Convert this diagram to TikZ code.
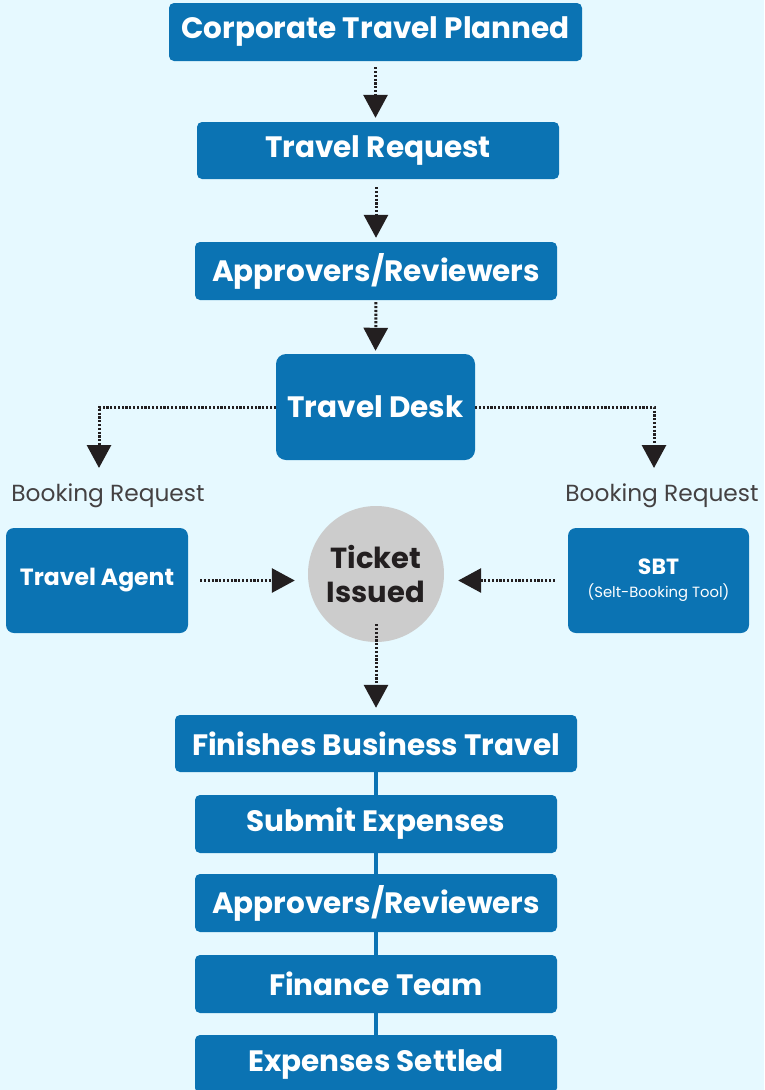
\documentclass[tikz,border=0pt]{standalone}
\usepackage{fontspec}
\setmainfont{Poppins}
\usetikzlibrary{arrows.meta,calc}
\definecolor{bgc}{HTML}{E6F9FF}
\definecolor{boxc}{HTML}{0B73B3}
\definecolor{ink}{HTML}{231F20}
\definecolor{tkc}{HTML}{CCCCCC}
\tikzset{
  bluebox/.style={fill=boxc, rounded corners=5pt, text=white, font=\bfseries\fontsize{29.5}{33}\selectfont, inner sep=0pt, align=center},
  flowarrow/.style={ink, line width=3pt, dash pattern=on 2.2pt off 1.6pt, -{Triangle[width=24pt,length=23pt]}},
  solidlink/.style={boxc, line width=4pt},
  lbl/.style={text=ink!85, font=\fontsize{23.3}{26}\selectfont, inner sep=0pt}
}
\begin{document}
\begin{tikzpicture}[x=1pt,y=-1pt]
\fill[bgc] (0,0) rectangle (764,1090);
\useasboundingbox (0,0) rectangle (764,1090);

\node[bluebox, minimum width=413pt, minimum height=58pt] (ctp) at (375.5,32) {Corporate Travel Planned};
\node[bluebox, minimum width=362pt, minimum height=57pt] (tr) at (378,150.5) {Travel Request};
\node[bluebox, minimum width=362pt, minimum height=58pt] (ar1) at (376,271) {Approvers/Reviewers};
\node[bluebox, rounded corners=10pt, minimum width=199pt, minimum height=106pt] (td) at (375.5,407) {Travel Desk};

\node[lbl] (brl) at (108,496) {Booking Request};
\node[lbl] (brr) at (662,496) {Booking Request};

\node[bluebox, rounded corners=8pt, minimum width=182pt, minimum height=105pt, font=\bfseries\fontsize{23.5}{26}\selectfont] (ta) at (97,580.5) {Travel Agent};
\node[bluebox, rounded corners=8pt, minimum width=181pt, minimum height=105pt, font=\bfseries\fontsize{22}{26}\selectfont] (sbt) at (658.5,580.5) {SBT\\[-3pt]{\mdseries\fontsize{14.8}{18}\selectfont (Selt-Booking Tool)}};

\node[circle, fill=tkc, minimum size=136pt, inner sep=0pt, text=ink, align=center, font=\bfseries\fontsize{29}{34}\selectfont] (tk) at (376,574) {Ticket\\Issued};

\node[bluebox, minimum width=402pt, minimum height=57pt] (fb) at (376,743.5) {Finishes Business Travel};
\node[bluebox, minimum width=362pt, minimum height=58pt] (se) at (376,824) {Submit Expenses};
\node[bluebox, minimum width=362pt, minimum height=58pt] (ar2) at (376,903) {Approvers/Reviewers};
\node[bluebox, minimum width=362pt, minimum height=58pt] (ft) at (376,984) {Finance Team};
\node[bluebox, minimum width=362pt, minimum height=58pt] (es) at (376,1064) {Expenses Settled};

\coordinate (tipl) at (99,468);
\coordinate (tipr) at (654,468);

\draw[flowarrow, shorten <=6pt, shorten >=4pt] (ctp.south) -- (ctp.south |- tr.north);
\draw[flowarrow, shorten <=8pt, shorten >=4pt] (ar1.north |- tr.south) -- (ar1.north);
\draw[flowarrow, shorten <=2pt, shorten >=3pt] (ar1.south) -- (td.north);
\draw[flowarrow] (td.west) -| (tipl);
\draw[flowarrow] (td.east) -| (tipr);
\draw[flowarrow, shorten <=12pt, shorten >=13pt] (ta.east) -- (ta.east -| tk.west);
\draw[flowarrow, shorten <=13pt, shorten >=14pt] (sbt.west) -- (sbt.west -| tk.east);
\draw[flowarrow, shorten >=7pt] ([yshift=18pt]tk.south) -- (fb.north);

\draw[solidlink] (fb.south) -- (se.north);
\draw[solidlink] (se.south) -- (ar2.north);
\draw[solidlink] (ar2.south) -- (ft.north);
\draw[solidlink] (ft.south) -- (es.north);
\end{tikzpicture}
\end{document}
